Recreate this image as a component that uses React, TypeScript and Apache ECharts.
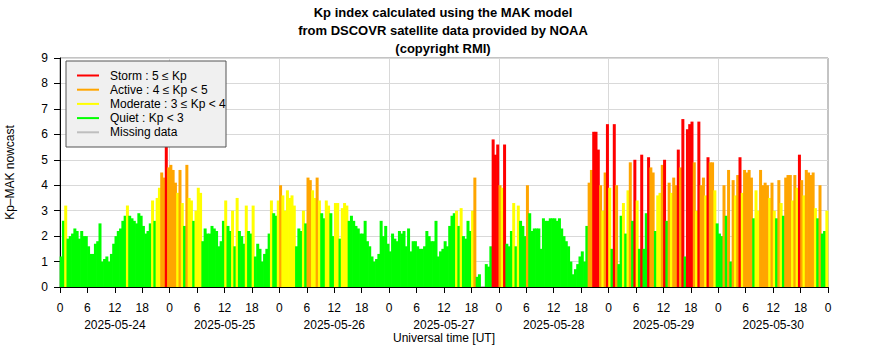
import React, { useEffect, useRef } from "react";
import * as echarts from "echarts";

// Dates (one per day), hour tick step, y range
const dates = ["2025-05-24", "2025-05-25", "2025-05-26", "2025-05-27", "2025-05-28", "2025-05-29", "2025-05-30"];
const titleLines = ["Kp index calculated using the MAK model", "from DSCOVR satellite data provided by NOAA", "(copyright RMI)"];
const legendLabels = ["Storm : 5 \u2264 Kp", "Active : 4 \u2264 Kp < 5", "Moderate : 3 \u2264 Kp < 4", "Quiet : Kp < 3", "Missing data"];
const legendColors = ["#ff0000", "#ffa500", "#ffff00", "#00ff00", "#bebebe"];
const xAxisTitle = "Universal time [UT]";

// Kp-MAK nowcast, one value per 30 minutes (48 per day); null = missing
const day1 = [1.2, 2.6, 3.2, 1.9, 2.0, 2.1, 2.3, 2.2, 1.9, 2.2, 2.0, 2.0, 1.6, 1.3, 1.3, 1.7, 1.8, 2.5, 1.0, 1.1, 1.2, 1.0, 1.3, 1.7, 2.0, 2.2, 2.3, 2.6, 2.8, 3.2, 2.8, 2.7, 2.6, 2.5, 2.9, 2.8, 2.4, 2.1, 2.2, 2.5, 3.4, 2.6, 3.5, 3.9, 4.5, 4.3, 5.6, 4.7];
const day2 = [4.8, 4.6, 4.1, 3.7, 4.6, 3.3, 2.4, 4.8, 3.5, 3.4, 2.6, 3.0, 3.9, 3.7, 1.8, 2.3, 2.1, 2.1, 2.4, 2.3, 2.2, 1.6, 1.8, 2.6, 3.4, 2.4, 2.2, 3.0, 1.6, 3.5, 2.2, 2.0, 1.7, 3.2, 2.2, 2.1, 3.2, 1.2, 1.7, 1.5, 1.0, 1.3, 1.5, 2.1, 3.4, 2.9, 2.8, 3.4];
const day3 = [4.0, 3.6, 3.0, 3.8, 3.5, 3.6, 3.2, 1.6, 2.3, 2.2, 3.0, 2.5, 4.3, 4.2, 3.8, 3.5, 4.3, 3.4, 2.9, 2.7, 3.4, 3.2, 2.9, 2.0, 3.3, 3.3, 1.9, 3.1, 3.3, 3.2, 2.6, 2.8, 2.6, 2.4, 2.3, 2.1, 2.1, 2.6, 1.8, 1.6, 1.2, 1.0, 1.1, 1.3, 2.6, 2.0, 2.4, 1.7];
const day4 = [1.4, 2.1, 1.9, 1.8, 2.2, 2.1, 2.2, 1.6, 2.3, 1.4, 1.8, 1.8, 1.6, 1.5, 1.5, 1.6, 2.2, 2.0, 1.8, 1.8, 2.6, 1.2, 1.4, 1.5, 1.8, 1.6, 2.4, 2.8, 2.9, 3.0, 2.4, 3.1, 2.0, 1.9, 2.6, 2.2, 3.0, 4.3, 0.4, 0.5, null, null, 0.9, 0.8, 1.6, 5.8, 5.2, 5.6];
const day5 = [4.0, 3.9, 5.6, 1.7, 1.6, 2.2, 3.3, 1.6, 3.2, 2.6, 2.4, 2.0, 4.0, 2.9, 2.2, 2.3, 2.3, 2.3, 1.5, 2.7, 2.6, 2.6, 2.7, 2.7, 2.7, 2.6, 2.7, 2.3, 2.0, 1.8, 1.6, 1.0, 0.5, 0.7, 0.9, 1.2, 1.4, 1.0, 2.4, 4.1, 4.6, 6.1, 6.1, 5.4, 4.0, 3.0, 4.5, 6.4];
const day6 = [3.9, 1.5, 6.4, 4.0, 0.9, 2.8, 3.3, 2.1, 3.8, 4.9, 2.6, 5.0, 3.4, 1.5, 5.2, 1.5, 2.9, 5.1, 4.7, 4.5, 2.2, 3.6, 3.7, 4.8, 5.0, 2.6, 4.1, 3.7, 4.3, 4.0, 5.4, 4.7, 6.6, 1.2, 6.2, 6.4, 6.5, 4.9, 3.0, 6.5, 4.0, 4.3, 3.6, 5.1, 4.9, 4.9, 3.8, 2.5];
const day7 = [2.1, 2.0, 4.0, 2.8, 4.6, 1.0, 4.2, 3.6, 4.4, 5.1, 3.7, 4.6, 4.5, 4.6, 4.3, 2.7, 3.8, 3.0, 4.6, 4.0, 4.1, 4.0, 3.5, 4.1, 3.0, 2.7, 4.2, 3.3, 2.8, 4.3, 4.4, 4.4, 3.4, 4.4, 3.9, 5.2, 4.2, 3.6, 4.6, 4.5, 4.4, 4.5, 3.1, 2.7, 4.0, 2.1, 2.2, 3.0];
const days = [day1, day2, day3, day4, day5, day6, day7];

const FONT = "'Liberation Sans', Arial, Helvetica, sans-serif";

function colorFor(v: number): string {
  if (v >= 5) return legendColors[0];
  if (v >= 4) return legendColors[1];
  if (v >= 3) return legendColors[2];
  return legendColors[3];
}

export default function App() {
  const ref = useRef<HTMLDivElement>(null);
  useEffect(() => {
    document.body.style.margin = "0";
    const chart = echarts.init(ref.current!, null, { renderer: "svg" });
    const data: any[] = [];
    days.forEach((arr, d) => {
      const step = 24 / arr.length;
      arr.forEach((v, i) => {
        if (v === null || v === undefined) return;
        data.push({ value: [d * 24 + i * step + step / 2, v], itemStyle: { color: colorFor(v) } });
      });
    });

    const legendX = 66, legendY = 61, rowH = 14.2;
    const graphics: any[] = [
      {
        type: "rect",
        shape: { x: legendX, y: legendY, width: 160, height: 86 },
        style: { fill: "#f0f0f0", stroke: "#555555", lineWidth: 1 },
        z: 100,
      },
    ];
    legendLabels.forEach((lab, i) => {
      const y = legendY + 14.5 + i * rowH;
      graphics.push({
        type: "line",
        shape: { x1: legendX + 11, y1: y, x2: legendX + 33, y2: y },
        style: { stroke: legendColors[i], lineWidth: 2 },
        z: 101,
      });
      graphics.push({
        type: "text",
        x: legendX + 44,
        y,
        style: { text: lab, fill: "#000", font: `12px ${FONT}`, verticalAlign: "middle", align: "left" },
        z: 101,
      });
    });
    graphics.push({
      type: "text",
      x: 444,
      y: 338,
      style: { text: xAxisTitle, fill: "#000", font: `12px ${FONT}`, verticalAlign: "middle", align: "center" },
    });

    chart.setOption({
      animation: false,
      backgroundColor: "#ffffff",
      textStyle: { fontFamily: FONT },
      title: {
        text: titleLines.join("\n"),
        left: "center",
        top: 3,
        padding: 0,
        textStyle: { fontFamily: FONT, fontSize: 13, fontWeight: "bold", color: "#000", lineHeight: 18 },
      },
      grid: {
        left: 60, right: 58, top: 58, bottom: 73,
        show: true, borderColor: "#888888", borderWidth: 1,
        containLabel: false,
        outerBoundsMode: "none",
      },
      xAxis: {
        type: "value",
        min: 0,
        max: 168,
        interval: 6,
        axisLine: { show: true, onZero: false, lineStyle: { color: "#000", width: 1 } },
        axisTick: { show: true, inside: false, length: 6, lineStyle: { color: "#000", width: 1 } },
        axisLabel: {
          margin: 12,
          fontFamily: FONT,
          fontSize: 12,
          color: "#000",
          lineHeight: 17,
          formatter: (v: number) => {
            const h = Math.round(v) % 24;
            const d = Math.floor(Math.round(v) / 24);
            if (h === 12 && d < dates.length) return `${h}\n${dates[d]}`;
            return `${h}`;
          },
        },
        splitLine: { show: false },
      },
      yAxis: {
        type: "value",
        min: 0,
        max: 9,
        interval: 1,
        name: "Kp\u2013MAK nowcast",
        nameLocation: "middle",
        nameGap: 44,
        nameRotate: 90,
        nameTextStyle: { fontFamily: FONT, fontSize: 12, color: "#000" },
        axisLine: { show: true, lineStyle: { color: "#000", width: 1 } },
        axisTick: { show: true, length: 6, lineStyle: { color: "#000" } },
        axisLabel: { margin: 12, fontFamily: FONT, fontSize: 12, color: "#000" },
        splitLine: { show: true, lineStyle: { color: "#d9d9d9", width: 1 } },
      },
      series: [
        {
          type: "bar",
          data,
          barWidth: 3,
          barGap: "-100%",
          itemStyle: { borderWidth: 0 },
          markLine: {
            silent: true,
            symbol: "none",
            label: { show: false },
            lineStyle: { color: "#d9d9d9", type: "solid", width: 1 },
            data: dates.map((_, d) => ({ xAxis: d * 24 })).slice(1),
            z: 0,
          },
        },
      ],
      graphic: graphics,
    });
    return () => chart.dispose();
  }, []);
  return <div ref={ref} style={{ width: 886, height: 360 }} />;
}
